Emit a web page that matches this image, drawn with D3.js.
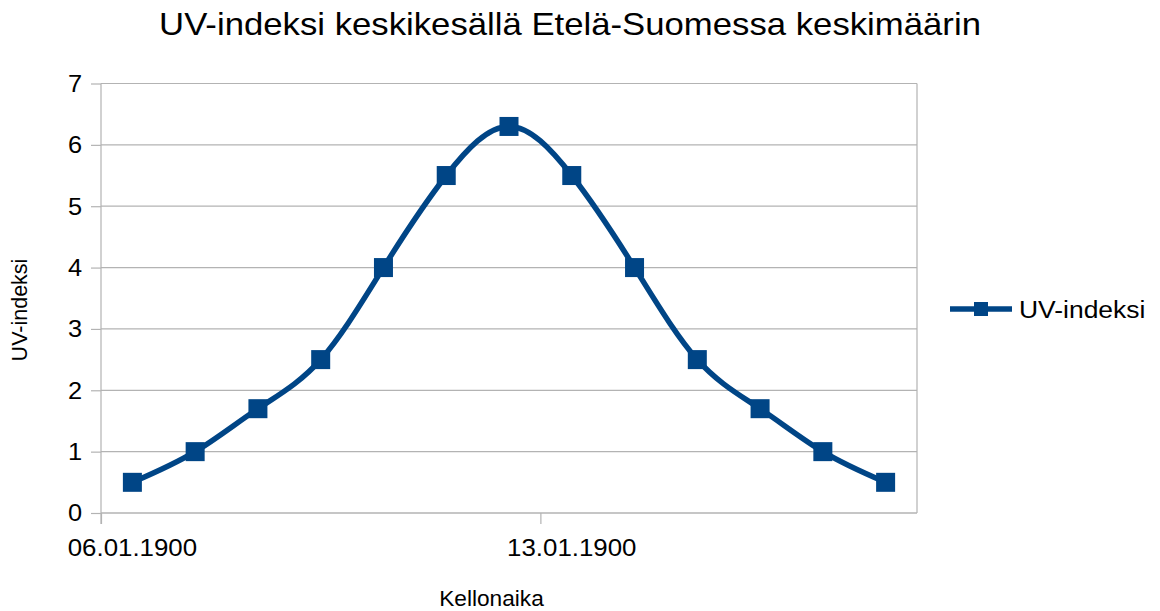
<!DOCTYPE html>
<html>
<head>
<meta charset="utf-8">
<script src="https://cdn.jsdelivr.net/npm/d3@7"></script>
<style>
  html, body { margin: 0; padding: 0; background: #fff; }
  svg { display: block; font-family: "Liberation Sans", Arial, sans-serif; }
</style>
</head>
<body>
<svg id="chart" width="1160" height="611"></svg>
<script>
// ---- data ----
const days = ["1900-01-06","1900-01-07","1900-01-08","1900-01-09","1900-01-10","1900-01-11","1900-01-12",
              "1900-01-13","1900-01-14","1900-01-15","1900-01-16","1900-01-17","1900-01-18"];
const uvValues = [0.5, 1, 1.7, 2.5, 4, 5.5, 6.3, 5.5, 4, 2.5, 1.7, 1, 0.5];
const xTickDates = ["1900-01-06", "1900-01-13"];
const yTicks = [0, 1, 2, 3, 4, 5, 6, 7];
const titleText = "UV-indeksi keskikesällä Etelä-Suomessa keskimäärin";
const xTitle = "Kellonaika";
const yTitle = "UV-indeksi";
const seriesName = "UV-indeksi";

// ---- layout ----
const svg = d3.select("#chart");
const plot = { left: 101, right: 917, top: 83.5, bottom: 513 };
const color = "#004586";
const gridColor = "#b3b3b3";
const DAY = 24 * 3600 * 1000;
const parse = s => new Date(s + "T00:00:00Z");

const x = d3.scaleUtc()
  .domain([parse(days[0]), new Date(+parse(days[days.length - 1]) + DAY)])
  .range([plot.left, plot.right]);
const y = d3.scaleLinear().domain([0, 7]).range([plot.bottom, plot.top]);
const fmt = d3.utcFormat("%d.%m.%Y");

function stretchedText(g, str, px, py, size, sx, anchor) {
  return g.append("text")
    .attr("transform", `translate(${px},${py}) scale(${sx},1)`)
    .attr("text-anchor", anchor)
    .attr("font-size", size)
    .attr("fill", "#000")
    .text(str);
}

// gridlines
svg.append("g").selectAll("line").data(yTicks).join("line")
  .attr("x1", plot.left).attr("x2", plot.right)
  .attr("y1", d => y(d)).attr("y2", d => y(d))
  .attr("stroke", gridColor).attr("stroke-width", 1.2);

// right border
svg.append("line")
  .attr("x1", plot.right).attr("x2", plot.right)
  .attr("y1", plot.top).attr("y2", plot.bottom)
  .attr("stroke", gridColor).attr("stroke-width", 1.2);

// y axis
const yAxis = svg.append("g")
  .attr("transform", `translate(${plot.left},0)`)
  .call(d3.axisLeft(y).tickValues(yTicks).tickSize(10).tickFormat(""));
yAxis.select(".domain").attr("stroke", gridColor).attr("stroke-width", 1.2)
  .attr("d", `M0,${plot.top}V${plot.bottom + 11}`);
yAxis.selectAll(".tick line").attr("stroke", gridColor).attr("stroke-width", 1.2);
yTicks.forEach(t => stretchedText(svg, String(t), 82, y(t) + 8.4, 23.5, 1.08, "end"));

// x axis
const xAxis = svg.append("g")
  .attr("transform", `translate(0,${plot.bottom})`)
  .call(d3.axisBottom(x).tickValues(xTickDates.map(parse)).tickSize(11).tickFormat(""));
xAxis.select(".domain").attr("stroke", gridColor).attr("stroke-width", 1.2)
  .attr("d", `M${plot.left},0H${plot.right}`);
xAxis.selectAll(".tick line").attr("stroke", gridColor).attr("stroke-width", 1.2);
xTickDates.forEach(d => {
  const dt = parse(d);
  stretchedText(svg, fmt(dt), x(new Date(+dt + DAY / 2)), 556, 23.5, 1.1, "middle");
});

// line
const pts = days.map((d, i) => [x(new Date(+parse(d) + DAY / 2)), y(uvValues[i])]);
svg.append("path")
  .attr("d", d3.line().curve(d3.curveNatural)(pts))
  .attr("fill", "none").attr("stroke", color).attr("stroke-width", 5.5)
  .attr("stroke-linejoin", "round");

// markers
const ms = 19;
svg.append("g").selectAll("rect").data(pts).join("rect")
  .attr("x", d => d[0] - ms / 2).attr("y", d => d[1] - ms / 2)
  .attr("width", ms).attr("height", ms).attr("fill", color);

// title
stretchedText(svg, titleText, 570, 35, 31, 1.12, "middle");

// axis titles
stretchedText(svg, xTitle, 491.5, 606, 22, 1.03, "middle");
svg.append("text")
  .attr("transform", "translate(27,310) rotate(-90)")
  .attr("text-anchor", "middle").attr("font-size", 21.5).attr("fill", "#000")
  .text(yTitle);

// legend
const lg = svg.append("g");
lg.append("line").attr("x1", 950).attr("x2", 1012).attr("y1", 309).attr("y2", 309)
  .attr("stroke", color).attr("stroke-width", 5.5);
lg.append("rect").attr("x", 981 - 7).attr("y", 309 - 7).attr("width", 14).attr("height", 14)
  .attr("fill", color);
stretchedText(lg, seriesName, 1019, 317.5, 24.5, 1.08, "start");
</script>
</body>
</html>
